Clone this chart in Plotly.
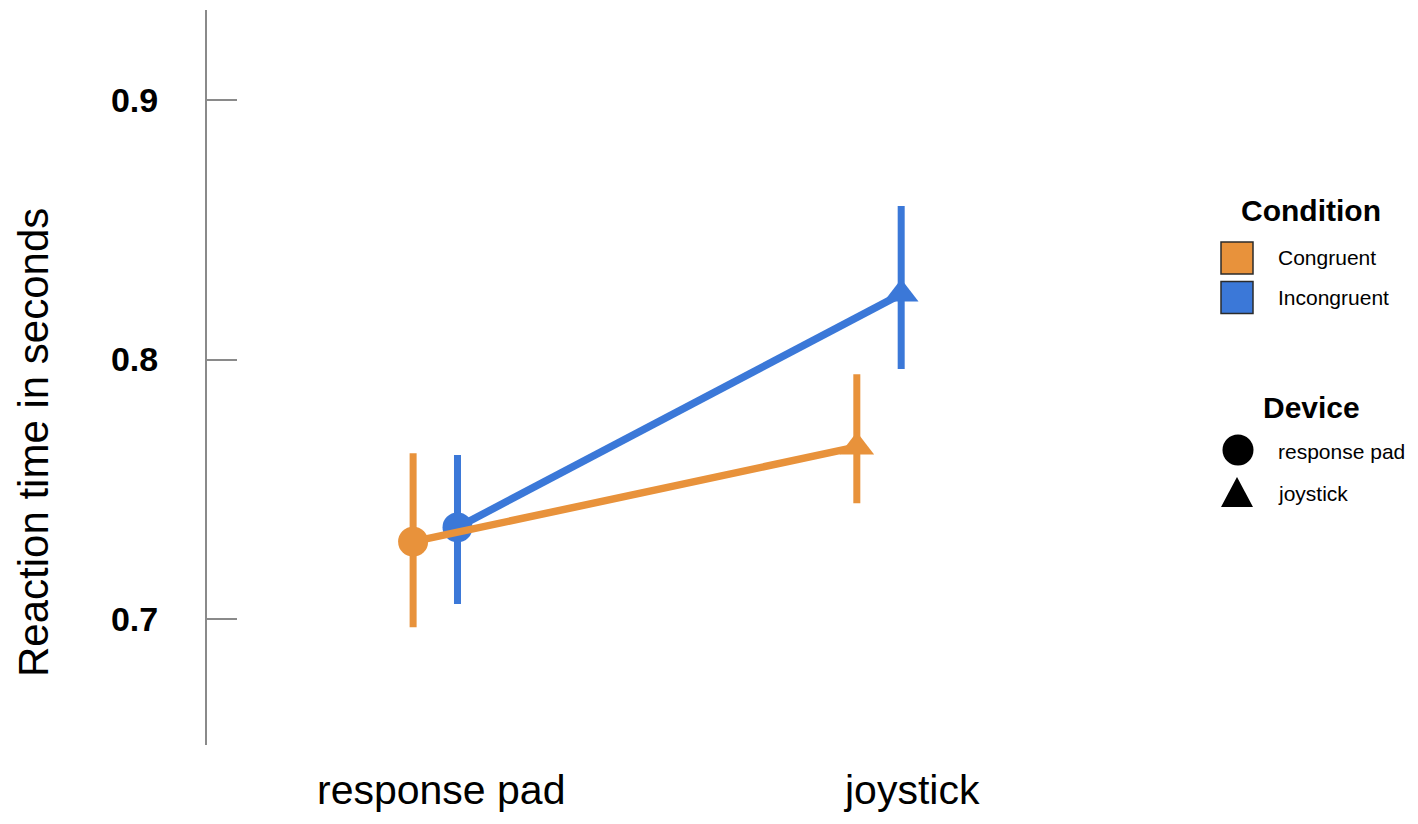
import plotly.graph_objects as go

# data
devices = ["response pad", "joystick"]
conditions = ["Congruent", "Incongruent"]

congruent_mean = [0.7298, 0.7663]
congruent_lo = [0.6968, 0.7446]
congruent_hi = [0.7639, 0.7943]

incongruent_mean = [0.7353, 0.8252]
incongruent_lo = [0.7058, 0.7963]
incongruent_hi = [0.7632, 0.8592]

y_ticks = [0.7, 0.8, 0.9]

# styling
colors = {"Congruent": "#E8923B", "Incongruent": "#3B78D8"}
symbols = ["circle", "triangle-up"]
sizes = [30, 30]
dodge = {"Congruent": -0.05, "Incongruent": 0.05}
label_shift = [6, 33]  # px shift of the category labels
FONT = "Liberation Sans, Arial, sans-serif"
GREY = "#8a8a8a"

# the page body has an 8px margin, positions below are page pixels
PAGE = 8
L, T, W, H = 207, 10, 973, 735
FIG_W, FIG_H = 1418 - 2 * PAGE, 824 - 2 * PAGE


def paper_x(px):
    return (px - L) / W


def paper_y(py):
    return (T + H - py) / H


series = {
    "Congruent": (congruent_mean, congruent_lo, congruent_hi),
    "Incongruent": (incongruent_mean, incongruent_lo, incongruent_hi),
}

fig = go.Figure()

# blue first so the orange line sits on top of it
for cond in ["Incongruent", "Congruent"]:
    mean, lo, hi = series[cond]
    fig.add_trace(go.Scatter(
        x=[i + dodge[cond] for i in range(len(devices))],
        y=mean,
        mode="lines+markers",
        name=cond,
        showlegend=False,
        line=dict(color=colors[cond], width=7.5),
        marker=dict(color=colors[cond], symbol=symbols, size=sizes,
                    opacity=1, line=dict(width=0)),
        error_y=dict(
            type="data",
            symmetric=False,
            array=[h - m for h, m in zip(hi, mean)],
            arrayminus=[m - l for m, l in zip(mean, lo)],
            color=colors[cond],
            thickness=7,
            width=0,
        ),
    ))

annotations = []
shapes = []

# category labels under the plot
for i, dev in enumerate(devices):
    annotations.append(dict(
        x=i, xref="x", y=paper_y(790), yref="paper",
        xshift=label_shift[i], text=dev, showarrow=False,
        xanchor="center", yanchor="middle",
        font=dict(family=FONT, size=41, color="black"),
    ))

# y axis title
annotations.append(dict(
    x=paper_x(33), xref="paper", y=paper_y(443), yref="paper",
    text="Reaction time in seconds", textangle=-90, showarrow=False,
    xanchor="center", yanchor="middle",
    font=dict(family=FONT, size=42, color="black"),
))

# legend: Condition
annotations.append(dict(
    x=paper_x(1311), xref="paper", y=paper_y(211), yref="paper",
    text="<b>Condition</b>", showarrow=False, xanchor="center", yanchor="middle",
    font=dict(family=FONT, size=30, color="black"),
))
for k, cond in enumerate(conditions):
    cy = 258 + k * 39.5
    shapes.append(dict(
        type="rect", xref="paper", yref="paper",
        x0=paper_x(1221), x1=paper_x(1253), y0=paper_y(cy + 16), y1=paper_y(cy - 16),
        fillcolor=colors[cond], line=dict(color="#2b2b2b", width=1.5),
    ))
    annotations.append(dict(
        x=paper_x(1276), xref="paper", y=paper_y(cy), yref="paper",
        text=cond, showarrow=False, xanchor="left", yanchor="middle",
        font=dict(family=FONT, size=21, color="black"),
    ))

# legend: Device
annotations.append(dict(
    x=paper_x(1311), xref="paper", y=paper_y(407), yref="paper",
    text="<b>Device</b>", showarrow=False, xanchor="center", yanchor="middle",
    font=dict(family=FONT, size=30, color="black"),
))
shapes.append(dict(
    type="circle", xref="paper", yref="paper",
    x0=paper_x(1222.5), x1=paper_x(1253.5), y0=paper_y(465.5), y1=paper_y(434.5),
    fillcolor="black", line=dict(width=0),
))
tri = [(1237, 477), (1253, 507), (1221, 507)]
shapes.append(dict(
    type="path", xref="paper", yref="paper",
    path="M {} {} L {} {} L {} {} Z".format(
        *[v for px, py in tri for v in (paper_x(px), paper_y(py))]),
    fillcolor="black", line=dict(width=0),
))
for k, dev in enumerate(devices):
    annotations.append(dict(
        x=paper_x(1276), xref="paper", y=paper_y(452 + k * 41), yref="paper",
        text=dev, showarrow=False, xanchor="left", yanchor="middle",
        font=dict(family=FONT, size=21, color="black"),
    ))

# y range matching the pixel calibration (0.7 at 619px, 0.9 at 100px)
px_per_unit = (619 - 100) / 0.2
y_top = 0.7 + (619 - T) / px_per_unit
y_bottom = 0.7 - (T + H - 619) / px_per_unit

# x range: device 0 at 435px, device 1 at 879px
x_unit = 879 - 435.3
x_left = (L - 435.3) / x_unit
x_right = (L + W - 435.3) / x_unit

fig.update_layout(
    width=FIG_W, height=FIG_H,
    margin=dict(l=L - PAGE, r=FIG_W - (L - PAGE) - W, t=T - PAGE,
                b=FIG_H - (T - PAGE) - H),
    paper_bgcolor="white", plot_bgcolor="white",
    xaxis=dict(
        range=[x_left, x_right], showgrid=False, zeroline=False,
        showline=False, showticklabels=False, ticks="",
    ),
    yaxis=dict(
        range=[y_bottom, y_top], showgrid=False, zeroline=False,
        showline=True, linecolor=GREY, linewidth=2,
        ticks="inside", ticklen=30, tickwidth=1.5, tickcolor=GREY,
        tickvals=y_ticks, ticktext=["{:.1f}".format(v) for v in y_ticks],
        tickfont=dict(family=FONT, size=34, color="black", weight="bold"),
        ticklabelstandoff=40,
    ),
    annotations=annotations,
    shapes=shapes,
)

fig.write_html("out.html")
